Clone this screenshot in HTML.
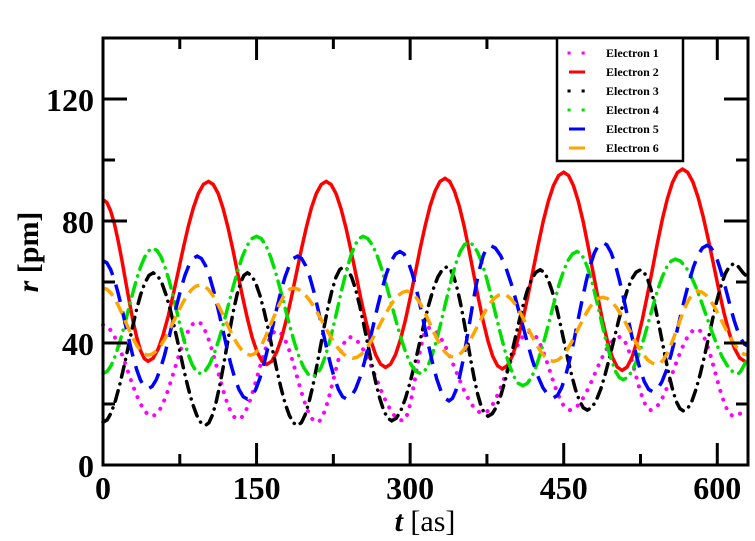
<!DOCTYPE html>
<html><head><meta charset="utf-8"><style>
html,body{margin:0;padding:0;background:#fff;}
svg{display:block;font-family:"Liberation Serif",serif;}
</style></head><body>
<svg id="chart" width="755" height="541">
<g id="series"></g>
<g id="axes"></g>
<g id="legend"></g>
</svg>
<script>
// extrema (t in as, r in pm)
const e1T=[0,48,92,132,170,209,241,293,318,371,417,456,505,535,580,616,630];
const e1R=[46,16,47,15,44,14,42,14.5,45,17,43.6,18,42,18,44.6,16,18];
const e2T=[0,44,103,160,218,276,334,390,450,507,566,627];
const e2R=[87,34,93,33,93,32,94,31.5,96,31,97,34];
const e3T=[0,49,100,141,190,235,282,336,376,427,473,525,567,616,630];
const e3R=[14,63,13,63,13,65,14.5,65,16,64,18,64,17.7,66,62];
const e4T=[0,49,95,150,205,254,310,357,410,463,508,559,620,630];
const e4R=[30,71,30,75,29,75,30,73,26,70,28,67.5,30,34];
const e5T=[0,44,92,141,190,238,290,338,378,440,488,537,590,630];
const e5R=[67,25,68.5,21.6,68.5,21.6,70,21,72,22,73,24,72,39];
const e6T=[0,44,95,144,186,244,297,342,390,440,488,541,581,630];
const e6R=[58,36,59,36,58,35,57,35.4,56,34,55,33,57,36];
const xTicks=[0,150,300,450,600];
const yTicks=[0,40,80,120];
const names=["Electron 1","Electron 2","Electron 3","Electron 4","Electron 5","Electron 6"];

const X0=103,X1=748,Y0=465,Y1=38,TMAX=630,RMAX=140;
const sx=t=>X0+t*(X1-X0)/TMAX;
const sy=r=>Y0-r*(Y0-Y1)/RMAX;
const NS="http://www.w3.org/2000/svg";
function mk(tag,attrs,parent){const e=document.createElementNS(NS,tag);for(const k in attrs)e.setAttribute(k,attrs[k]);parent.appendChild(e);return e;}

const styles=[
 {c:"#ff00ff",d:"0.1 9",cap:"round"},
 {c:"#ff0000",d:"",cap:"butt"},
 {c:"#000000",d:"11 7 0.1 7",cap:"round"},
 {c:"#00e000",d:"14 7 0.1 7",cap:"round"},
 {c:"#0000ff",d:"18 10",cap:"butt"},
 {c:"#ffa500",d:"13 7",cap:"butt"}];
const series=[[e1T,e1R],[e2T,e2R],[e3T,e3R],[e4T,e4R],[e5T,e5R],[e6T,e6R]];
const sg=document.getElementById('series');
series.forEach((s,i)=>{
  const T=s[0],R=s[1];let d="M"+sx(T[0]).toFixed(1)+","+sy(R[0]).toFixed(1);
  for(let k=0;k<T.length-1;k++){
    for(let j=1;j<=12;j++){const f=j/12,w=(1-Math.cos(Math.PI*f))/2;
      d+=" L"+sx(T[k]+(T[k+1]-T[k])*f).toFixed(1)+","+sy(R[k]+(R[k+1]-R[k])*w).toFixed(1);}
  }
  const p=mk('path',{d:d,fill:"none",stroke:styles[i].c,"stroke-width":styles[i].c=="#ff00ff"?4:3.5,"stroke-dasharray":styles[i].d,"stroke-linecap":styles[i].cap},sg);
  
  
});

const ax=document.getElementById('axes');
const fr=mk('rect',{x:X0,y:Y1,width:X1-X0,height:Y0-Y1,fill:"none",stroke:"#000","stroke-width":3},ax);


for(let t=0;t<=TMAX;t+=75){const major=t%150==0;const L=major?22:11;
  mk('line',{x1:sx(t),x2:sx(t),y1:Y0,y2:Y0-L,stroke:"#000","stroke-width":3},ax);
  mk('line',{x1:sx(t),x2:sx(t),y1:Y1,y2:Y1+L,stroke:"#000","stroke-width":3},ax);}
for(let r=0;r<=RMAX;r+=20){const major=r%40==0;const L=major?24:12;
  mk('line',{x1:X0,x2:X0+L,y1:sy(r),y2:sy(r),stroke:"#000","stroke-width":3},ax);
  mk('line',{x1:X1,x2:X1-L,y1:sy(r),y2:sy(r),stroke:"#000","stroke-width":3},ax);}
xTicks.forEach(t=>{const e=mk('text',{x:sx(t),y:499,"text-anchor":"middle","font-size":32,"font-weight":"bold"},ax);e.textContent=t;
  
  });
yTicks.forEach(r=>{const e=mk('text',{x:94,y:sy(r)+12,"text-anchor":"end","font-size":32,"font-weight":"bold"},ax);e.textContent=r;
  
  });
const xt=mk('text',{x:425,y:531,"text-anchor":"middle","font-size":30},ax);
xt.innerHTML='<tspan font-style="italic" font-weight="bold">t</tspan> [as]';


const yt=mk('text',{x:0,y:0,"text-anchor":"middle","font-size":30,transform:"translate(38,252) rotate(-90)"},ax);
yt.innerHTML='<tspan font-style="italic" font-weight="bold">r</tspan> <tspan font-weight="bold">[pm]</tspan>';



const lg=document.getElementById('legend');
const lb=mk('rect',{x:557,y:38,width:126,height:123,fill:"#fff",stroke:"#000","stroke-width":2.5},lg);


names.forEach((n,i)=>{const y=53+i*19;
  const g=mk('g',{},lg);
  
  
  const dash=i==0||i==2||i==3?"0.1 14":"";
  mk('line',{x1:569,x2:585,y1:y,y2:y,stroke:styles[i].c,"stroke-width":3,"stroke-dasharray":dash,"stroke-linecap":dash?"square":"butt"},g);
  const t=mk('text',{x:606,y:y+4,"font-size":12,"font-weight":"bold"},g);t.textContent=n;});
</script>
</body></html>
